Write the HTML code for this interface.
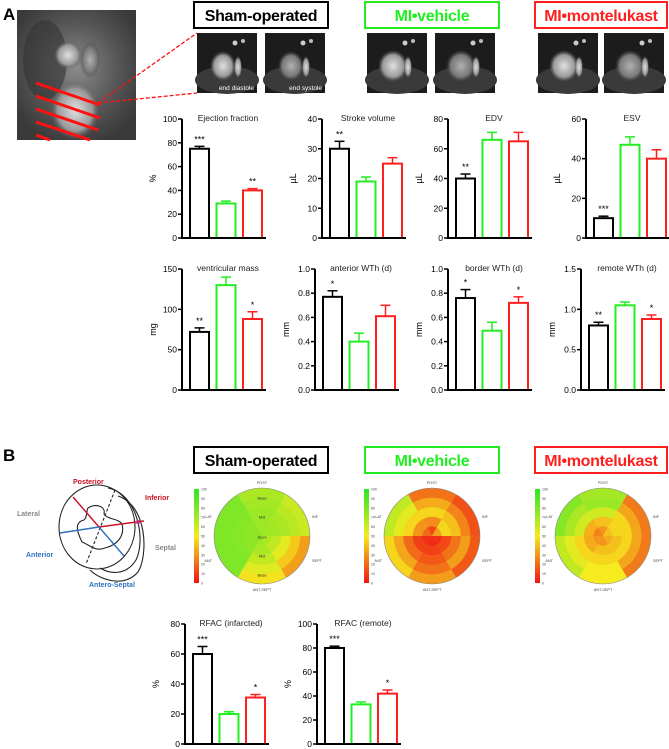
<!DOCTYPE html>
<html><head><meta charset="utf-8">
<style>
body{margin:0;background:#fff;width:669px;height:749px;overflow:hidden;font-family:"Liberation Sans",sans-serif;}
svg{position:absolute;left:0;top:0}
</style></head>
<body>
<svg id="fig" width="669" height="749" viewBox="0 0 669 749" xmlns="http://www.w3.org/2000/svg">
<defs>
<radialGradient id="mriBg" cx="50%" cy="45%" r="60%"><stop offset="0" stop-color="#8a8a8a"/><stop offset="0.6" stop-color="#555"/><stop offset="1" stop-color="#3a3a3a"/></radialGradient>
<radialGradient id="blob" cx="50%" cy="50%" r="50%"><stop offset="0" stop-color="#e0e0e0"/><stop offset="0.7" stop-color="#999"/><stop offset="1" stop-color="#555" stop-opacity="0"/></radialGradient>
<radialGradient id="blobDim" cx="50%" cy="50%" r="50%"><stop offset="0" stop-color="#b0b0b0"/><stop offset="0.7" stop-color="#777"/><stop offset="1" stop-color="#444" stop-opacity="0"/></radialGradient>
<linearGradient id="cbar" x1="0" y1="0" x2="0" y2="1"><stop offset="0" stop-color="rgb(40,230,40)"/><stop offset="0.5" stop-color="rgb(245,235,30)"/><stop offset="1" stop-color="rgb(240,20,20)"/></linearGradient>
</defs>
<text x="3" y="20" font-size="17" font-weight="bold">A</text>
<text x="3" y="461" font-size="17" font-weight="bold">B</text>
<g>
<rect x="17" y="10" width="119" height="130" fill="url(#mriBg)"/>
<ellipse cx="45" cy="60" rx="22" ry="40" fill="#333" opacity="0.6"/>
<ellipse cx="68" cy="55" rx="14" ry="14" fill="url(#blob)"/>
<ellipse cx="90" cy="60" rx="10" ry="18" fill="url(#blobDim)"/>
<ellipse cx="75" cy="110" rx="25" ry="30" fill="url(#blob)"/>
<g stroke="#ff1010" stroke-width="3">
<line x1="36" y1="83" x2="100" y2="105"/><line x1="36" y1="96" x2="100" y2="118"/><line x1="36" y1="109" x2="98" y2="130"/><line x1="36" y1="122" x2="90" y2="140"/><line x1="36" y1="135" x2="50" y2="140"/>
</g>
<line x1="98" y1="103" x2="197" y2="33" stroke="#ff1010" stroke-width="1.3" stroke-dasharray="4,2"/>
<line x1="98" y1="103" x2="197" y2="93" stroke="#ff1010" stroke-width="1.3" stroke-dasharray="4,2"/>
</g>
<g id="titles"></g>
<g id="thumbs"></g>
<g id="charts"></g>
<g id="bulls"></g>
<g fill="none" stroke="#222" stroke-width="1.1">
<ellipse cx="97" cy="527" rx="38" ry="42"/>
<path d="M108 488 C138 494 146 540 136 560 C126 576 110 574 100 568"/>
<path d="M118 496 C148 506 148 556 138 572 C124 588 100 580 90 570"/>
<path d="M88 508 C95 503 106 506 104 514 C108 520 118 518 122 524 C125 535 118 545 105 548 C95 552 90 545 82 542 C76 530 75 522 84 520 C88 516 86 511 88 508Z"/>
<line x1="115" y1="490" x2="86" y2="564" stroke-dasharray="3,2"/>
<line x1="73" y1="497" x2="99" y2="527" stroke="#cc1020" stroke-width="1.4"/>
<line x1="99" y1="527" x2="144" y2="521" stroke="#cc1020" stroke-width="1.4"/>
<circle cx="138" cy="522" r="2" fill="#c03080" stroke="none"/>
<line x1="60" y1="533" x2="99" y2="527" stroke="#3070c0" stroke-width="1.4"/>
<line x1="99" y1="527" x2="124" y2="556" stroke="#3070c0" stroke-width="1.4"/>
</g>
<g font-size="7" font-weight="bold">
<text x="73" y="484" fill="#cc1020">Posterior</text>
<text x="145" y="500" fill="#cc1020">Inferior</text>
<text x="17" y="516" fill="#888">Lateral</text>
<text x="155" y="550" fill="#888">Septal</text>
<text x="26" y="557" fill="#3070c0">Anterior</text>
<text x="89" y="587" fill="#3070c0">Antero-Septal</text>
</g>
</svg>
<script>
// ---------- bar chart data ----------
const groups = ["Sham-operated", "MI+vehicle", "MI+montelukast"];
const efMeans = [75, 29, 40];   const efErrs = [2, 2, 1.5];   const efStars = ["***", "", "**"];  const efTicks = [0,20,40,60,80,100];
const svMeans = [30, 19, 25];   const svErrs = [2.5, 1.5, 2]; const svStars = ["**", "", ""];    const svTicks = [0,10,20,30,40];
const edvMeans = [40, 66, 65];  const edvErrs = [3, 5, 6];    const edvStars = ["**", "", ""];   const edvTicks = [0,20,40,60,80];
const esvMeans = [10, 47, 40];  const esvErrs = [1, 4, 4.5];  const esvStars = ["***", "", ""];  const esvTicks = [0,20,40,60];
const massMeans = [72, 130, 88]; const massErrs = [5, 10, 9]; const massStars = ["**", "", "*"]; const massTicks = [0,50,100,150];
const antMeans = [0.77, 0.40, 0.61]; const antErrs = [0.05, 0.07, 0.09]; const antStars = ["*", "", ""]; const antTicks = [0,0.2,0.4,0.6,0.8,1.0];
const borMeans = [0.76, 0.49, 0.72]; const borErrs = [0.07, 0.07, 0.05]; const borStars = ["*", "", "*"]; const borTicks = [0,0.2,0.4,0.6,0.8,1.0];
const remMeans = [0.80, 1.05, 0.88]; const remErrs = [0.04, 0.04, 0.05]; const remStars = ["**", "", "*"]; const remTicks = [0,0.5,1.0,1.5];
const rfiMeans = [60, 20, 31]; const rfiErrs = [5, 1.5, 2]; const rfiStars = ["***", "", "*"]; const rfiTicks = [0,20,40,60,80];
const rfrMeans = [80, 33, 42]; const rfrErrs = [1.5, 2, 3]; const rfrStars = ["***", "", "*"]; const rfrTicks = [0,20,40,60,80,100];

// ---------- bullseye data (sectors: POST, LAT, ANT, ANT-SEPT, SEPT, INF ; rings apex->base) ----------
const shamSectors = [[74,74,74,72,70],[78,78,80,82,82],[78,78,80,82,82],[72,70,64,56,48],[70,64,55,42,32],[74,72,70,66,62]];
const vehSectors  = [[12,28,45,35,22],[20,30,45,55,65],[6,10,20,34,45],[5,10,16,22,32],[6,12,22,32,16],[32,45,40,26,14]];
const monSectors  = [[30,40,60,75,72],[25,36,60,70,80],[30,35,45,55,64],[30,40,45,50,50],[35,40,45,34,24],[40,45,45,34,24]];

const NS = "http://www.w3.org/2000/svg";
const colors = ["#000000", "#22ee22", "#ff1f1f"];
function mk(tag, attrs, parent){ const e=document.createElementNS(NS,tag); for(const k in attrs) e.setAttribute(k,attrs[k]); parent.appendChild(e); return e; }

const titleG = document.getElementById("titles");
const titleX = [194, 365, 535];
const titleW = [134, 134, 132];
[[2,"title-a"],[447,"title-b"]].forEach(([ty,pre])=>{
  groups.forEach((g,i)=>{
    const r = mk("rect",{x:titleX[i],y:ty,width:titleW[i],height:26,fill:"#fff",stroke:colors[i],"stroke-width":2},titleG);
    
    
    const t = mk("text",{x:titleX[i]+titleW[i]/2,y:ty+19,"text-anchor":"middle","font-size":16,"font-weight":"bold",fill:colors[i],"letter-spacing":"-0.3"},titleG);
    t.textContent = g.replace("+","•");
    
    
  });
});

const thumbG = document.getElementById("thumbs");
const thumbX = [197,265,367,435,538,604];
thumbX.forEach((x,i)=>{
  const g = mk("g",{},thumbG);
  
  
  mk("rect",{x:x,y:33,width:60,height:60,fill:"#1c1c1c"},g);
  mk("ellipse",{cx:x+30,cy:80,rx:32,ry:14,fill:"#3a3a3a"},g);
  mk("ellipse",{cx:x+26,cy:66,rx:(i<2?13:15),ry:(i<2?15:16),fill:(i%2?"url(#blobDim)":"url(#blob)")},g);
  mk("ellipse",{cx:x+41,cy:67,rx:4,ry:11,fill:"url(#blob)"},g);
  mk("circle",{cx:x+38,cy:43,r:2.5,fill:"#ccc"},g);
  mk("circle",{cx:x+46,cy:41,r:2,fill:"#bbb"},g);
  if(i<2){ const t=mk("text",{x:x+57,y:90,"text-anchor":"end","font-size":6.5,fill:"#fff"},g); t.textContent = i==0?"end diastole":"end systole"; }
});

const chartG = document.getElementById("charts");
const chartDefs = [
  {name:"ejection-fraction",title:"Ejection fraction",unit:"%",ax:182,top:119,base:238,means:efMeans,errs:efErrs,stars:efStars,ticks:efTicks,dec:0},
  {name:"stroke-volume",title:"Stroke volume",unit:"µL",ax:322,top:119,base:238,means:svMeans,errs:svErrs,stars:svStars,ticks:svTicks,dec:0},
  {name:"edv",title:"EDV",unit:"µL",ax:448,top:119,base:238,means:edvMeans,errs:edvErrs,stars:edvStars,ticks:edvTicks,dec:0},
  {name:"esv",title:"ESV",unit:"µL",ax:586,top:119,base:238,means:esvMeans,errs:esvErrs,stars:esvStars,ticks:esvTicks,dec:0},
  {name:"ventricular-mass",title:"ventricular mass",unit:"mg",ax:182,top:269,base:390,means:massMeans,errs:massErrs,stars:massStars,ticks:massTicks,dec:0},
  {name:"anterior-wth",title:"anterior WTh (d)",unit:"mm",ax:315,top:269,base:390,means:antMeans,errs:antErrs,stars:antStars,ticks:antTicks,dec:1},
  {name:"border-wth",title:"border WTh (d)",unit:"mm",ax:448,top:269,base:390,means:borMeans,errs:borErrs,stars:borStars,ticks:borTicks,dec:1},
  {name:"remote-wth",title:"remote WTh (d)",unit:"mm",ax:581,top:269,base:390,means:remMeans,errs:remErrs,stars:remStars,ticks:remTicks,dec:1},
  {name:"rfac-infarcted",title:"RFAC (infarcted)",unit:"%",ax:185,top:624,base:744,means:rfiMeans,errs:rfiErrs,stars:rfiStars,ticks:rfiTicks,dec:0},
  {name:"rfac-remote",title:"RFAC (remote)",unit:"%",ax:317,top:624,base:744,means:rfrMeans,errs:rfrErrs,stars:rfrStars,ticks:rfrTicks,dec:0}
];
chartDefs.forEach(c=>{
  const g = mk("g",{},chartG);
  
  
  const max = c.ticks[c.ticks.length-1];
  const y = v => c.base - v/max*(c.base-c.top);
  const barX = i => c.ax + 8 + i*26.5;
  const bw = 19;
  c.means.forEach((m,i)=>{
    const col = colors[i];
    const b = mk("rect",{x:barX(i),y:y(m),width:bw,height:c.base-y(m),fill:"#fff",stroke:col,"stroke-width":2},g);
    
    
    const cx = barX(i)+bw/2, et = y(m+c.errs[i]);
    mk("line",{x1:cx,y1:y(m),x2:cx,y2:et,stroke:col,"stroke-width":1.5},g);
    mk("line",{x1:cx-5,y1:et,x2:cx+5,y2:et,stroke:col,"stroke-width":1.5},g);
    if(c.stars[i]){ const s=mk("text",{x:cx,y:et-4,"text-anchor":"middle","font-size":9,fill:"#000"},g); s.textContent=c.stars[i];
      
       }
  });
  mk("line",{x1:c.ax,y1:c.top,x2:c.ax,y2:c.base+1,stroke:"#000","stroke-width":2},g);
  mk("line",{x1:c.ax-1,y1:c.base,x2:c.ax+84,y2:c.base,stroke:"#000","stroke-width":2},g);
  c.ticks.forEach(t=>{
    mk("line",{x1:c.ax-4,y1:y(t),x2:c.ax,y2:y(t),stroke:"#000","stroke-width":1.5},g);
    const tl = mk("text",{x:c.ax-5,y:y(t)+3,"text-anchor":"end","font-size":8.5,fill:"#000"},g);
    tl.textContent = t.toFixed(c.dec);
    
    
  });
  const yl = mk("text",{x:0,y:0,"text-anchor":"middle","font-size":9,transform:`translate(${c.ax-26},${(c.top+c.base)/2}) rotate(-90)`},g);
  yl.textContent = c.unit;
  
  
  const tt = mk("text",{x:c.ax+46,y:c.top+2,"text-anchor":"middle","font-size":8.5,fill:"#222"},g);
  tt.textContent = c.title;
  
  
});

function cmap(v){
  const a=[240,20,20], b=[245,235,30], c=[60,228,45];
  let p,q,t; if(v<50){p=a;q=b;t=v/50;} else {p=b;q=c;t=(v-50)/50;}
  return `rgb(${Math.round(p[0]+(q[0]-p[0])*t)},${Math.round(p[1]+(q[1]-p[1])*t)},${Math.round(p[2]+(q[2]-p[2])*t)})`;
}
const bullG = document.getElementById("bulls");
const bullDefs = [{name:"sham",cx:262,data:shamSectors},{name:"vehicle",cx:432,data:vehSectors},{name:"montelukast",cx:603,data:monSectors}];
const bullCy = 536, bullR = 48;
const sectorStart = [60,120,180,240,300,0];
const sectorLabels = ["POST","LAT","ANT","ANT-SEPT","SEPT","INF"];
bullDefs.forEach(b=>{
  const g = mk("g",{},bullG);
  
  
  const cbx = b.cx - 68;
  mk("rect",{x:cbx,y:489,width:5,height:94,fill:"url(#cbar)"},g);
  for(let k=0;k<=10;k++){ const t=mk("text",{x:cbx+7,y:583-k*9.4+1.5,"font-size":3.5,fill:"#444"},g); t.textContent=k*10; }
  for(let r=4;r>=0;r--){
    const ro = bullR*(r+1)/5;
    b.data.forEach((ring,s)=>{
      const a0 = sectorStart[s]*Math.PI/180, a1=(sectorStart[s]+60)*Math.PI/180;
      const x0=b.cx+ro*Math.cos(a0), y0=bullCy-ro*Math.sin(a0), x1=b.cx+ro*Math.cos(a1), y1=bullCy-ro*Math.sin(a1);
      const p = mk("path",{d:`M${b.cx},${bullCy} L${x0},${y0} A${ro},${ro} 0 0 0 ${x1},${y1} Z`,fill:cmap(ring[r])},g);
      
      
    });
  }
  mk("circle",{cx:b.cx,cy:bullCy,r:bullR,fill:"none",stroke:"#888","stroke-width":0.6},g);
  const lp=[[0,-bullR-4,"middle"],[-bullR-2,-18,"end"],[-bullR-2,26,"end"],[0,bullR+7,"middle"],[bullR+2,26,"start"],[bullR+2,-18,"start"]];
  sectorLabels.forEach((l,i)=>{ const t=mk("text",{x:b.cx+lp[i][0],y:bullCy+lp[i][1],"text-anchor":lp[i][2],"font-size":3.8,fill:"#444"},g); t.textContent=l; });
  if(b.name==="sham"){
    [["Base",-38],["Mid",-19],["Apex",1],["Mid",20],["Base",39]].forEach(([l,dy])=>{const t=mk("text",{x:b.cx,y:bullCy+dy+1.5,"text-anchor":"middle","font-size":4,fill:"#333"},g); t.textContent=l;});
  }
});
</script>
</body></html>
